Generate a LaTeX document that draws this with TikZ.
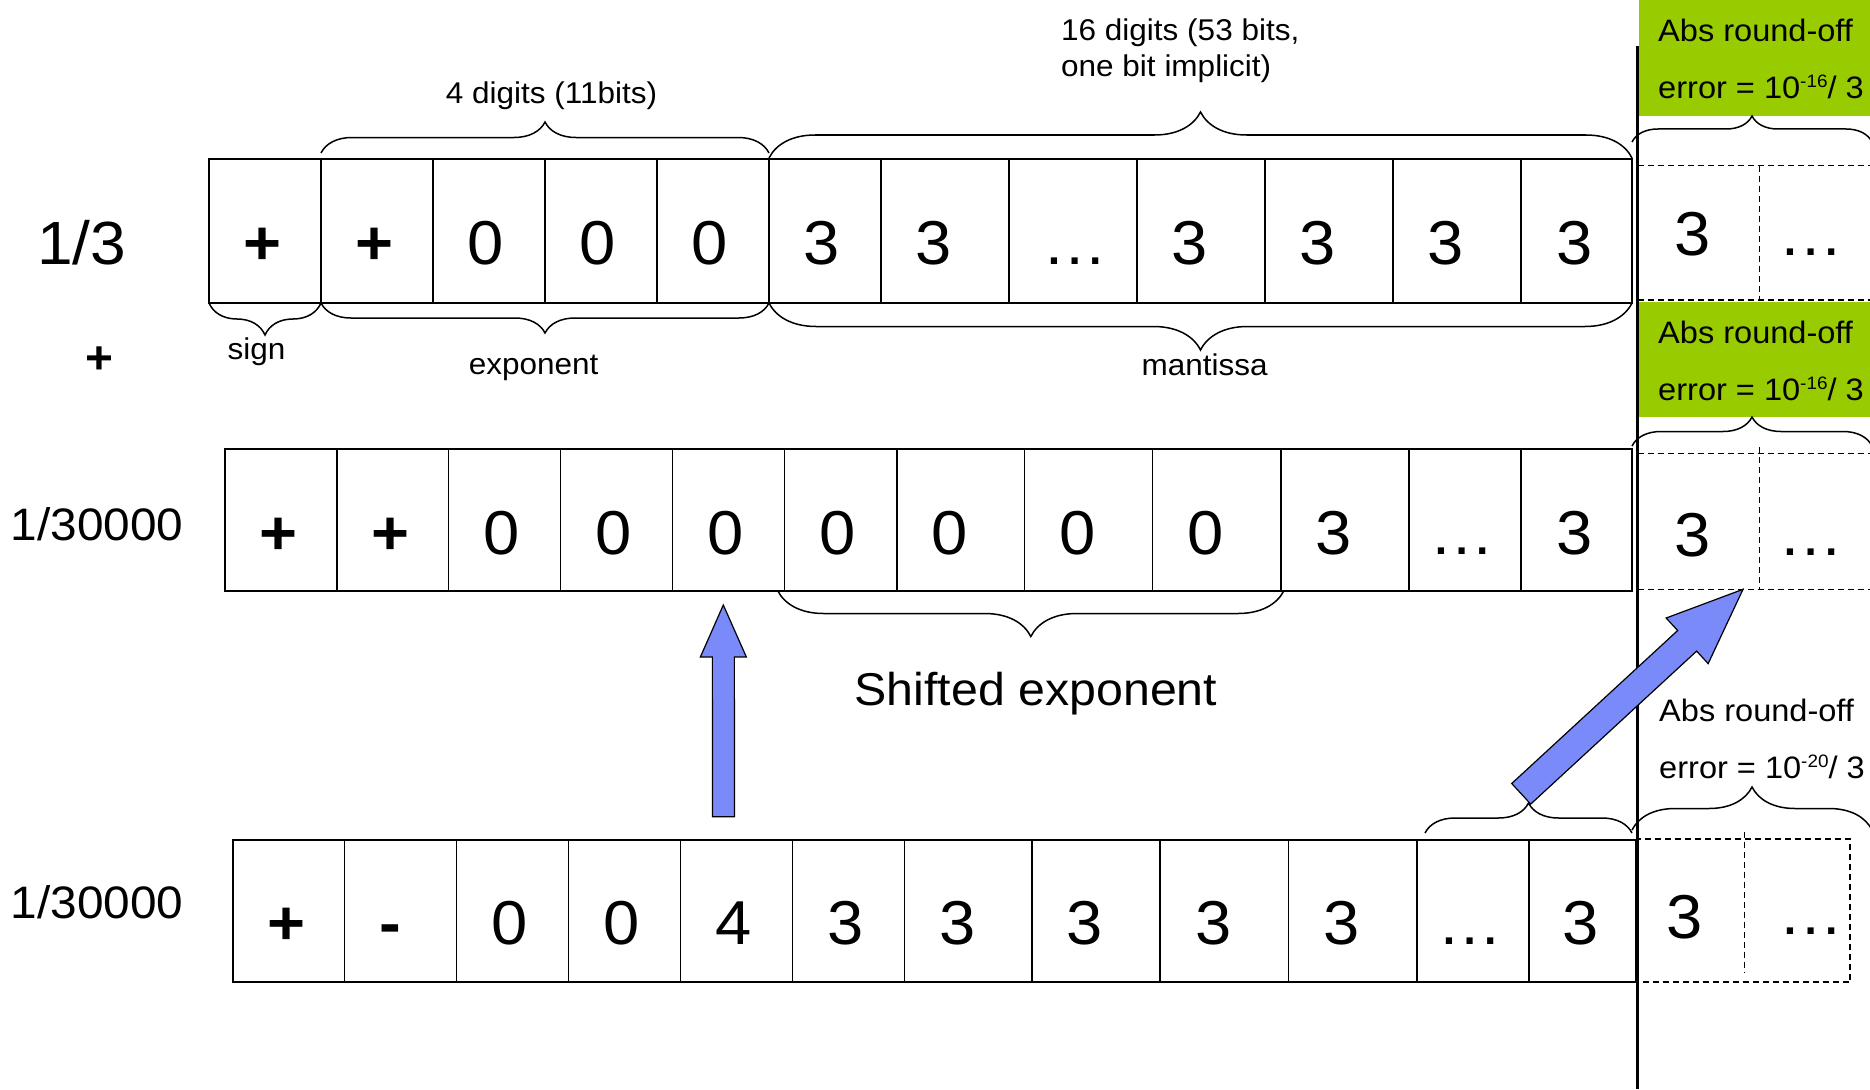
\documentclass[tikz,border=0pt]{standalone}
\usepackage{fontspec}
\setmainfont{Liberation Sans}[FakeStretch=1.05]
\usetikzlibrary{decorations.pathreplacing,calc}
\definecolor{limegreen}{RGB}{153,204,0}
\definecolor{arrowblue}{RGB}{122,138,248}
\tikzset{
  cell/.style={line width=1.3pt},
  outerbox/.style={line width=2pt},
  dashcell/.style={line width=1.3pt, dash pattern=on 6pt off 4pt},
  digit/.style={anchor=base, inner sep=0pt, font=\fontsize{62}{62}\selectfont},
  rowlabel/.style={anchor=base, inner sep=0pt},
  smalllabel/.style={anchor=base, inner sep=0pt, font=\fontsize{30}{30}\selectfont},
  errtext/.style={anchor=base west, inner sep=0pt, font=\fontsize{31}{31}\selectfont},
  bracetop/.style={decorate, decoration={brace, amplitude=#1}, line width=1.5pt},
  bracebot/.style={decorate, decoration={brace, amplitude=#1, mirror}, line width=1.5pt},
  blockarrow/.style={fill=arrowblue, draw=black, line width=1.2pt, line join=miter},
  divider/.style={line width=3.5pt},
}
\newcommand{\supx}[1]{\raisebox{11pt}{\fontsize{18}{18}\selectfont #1}}
\begin{document}
\begin{tikzpicture}[x=1pt,y=-1pt]
\useasboundingbox (0,0) rectangle (1870,1089);
\clip (0,0) rectangle (1870,1089);

% ---------- row 1 : 1/3 ----------
\foreach \a/\b/\t/\d [count=\i] in {209/321/\textbf{+}/-2, 321/433/\textbf{+}/-2, 433/545/0/-3, 545/657/0/-3, 657/769/0/-3, 769/881/3/-3, 881/1009/3/-11, 1009/1137/…/2, 1137/1265/3/-11, 1265/1393/3/-11, 1393/1521/3/-11, 1521/1632/3/-2}{
  \draw[cell] (\a,159) rectangle (\b,303);
  \node[digit] (r1c\i) at ({(\a+\b)/2+\d},264) {\t};
}
\draw[outerbox] (209,159) rectangle (1632,303);

% ---------- row 2 : 1/30000 ----------
\foreach \a/\b/\t/\d [count=\i] in {225/337/\textbf{+}/-2, 337/448.5/\textbf{+}/-2, 448.5/560.5/0/-3, 560.5/672.5/0/-3, 672.5/784.5/0/-3, 784.5/897/0/-3, 897/1024.5/0/-11, 1024.5/1152.5/0/-11, 1152.5/1281/0/-11, 1281/1409/3/-11, 1409/1521/…/-3, 1521/1632/3/-2}{
  \draw[cell] (\a,448.5) rectangle (\b,590.5);
  \node[digit] (r2c\i) at ({(\a+\b)/2+\d},554) {\t};
}
\draw[outerbox] (225,448.5) rectangle (1632,590.5);

% ---------- row 3 : 1/30000 ----------
\foreach \a/\b/\t/\d [count=\i] in {232.5/344.7/\textbf{+}/-2, 344.7/456.8/\textbf{-}/-10, 456.8/568.5/0/-3, 568.5/680.5/0/-3, 680.5/792.5/4/-3, 792.5/904.5/3/-3, 904.5/1032/3/-11, 1032/1160/3/-11, 1160/1288.5/3/-11, 1288.5/1417/3/-11, 1417/1529/…/-3, 1529/1636/3/-2}{
  \draw[cell] (\a,839.5) rectangle (\b,982);
  \node[digit] (r3c\i) at ({(\a+\b)/2+\d},944) {\t};
}
\draw[outerbox] (232.5,839.5) rectangle (1636,982);

% ---------- dashed (lost) digits ----------
\draw[dashcell] (1637.5,165.7) -- (1875,165.7) (1637.5,300) -- (1875,300) (1759.5,165.7) -- (1759.5,300);
\node[digit] (d1a) at (1693,255) {3};
\node[digit] (d1b) at (1811,255) {…};
\draw[dashcell] (1637.5,453.3) -- (1875,453.3) (1637.5,589.3) -- (1875,589.3) (1759.7,447) -- (1759.7,589.3);
\node[digit] (d2a) at (1693,556) {3};
\node[digit] (d2b) at (1811,555) {…};
\draw[dashcell] (1635.5,839) rectangle (1850,982) (1744.5,831.7) -- (1744.5,973);
\node[digit] (d3a) at (1685,938) {3};
\node[digit] (d3b) at (1811,934) {…};

% ---------- green boxes ----------
\fill[limegreen] (1639,0) rectangle (1870,115.7);
\fill[limegreen] (1639,301.7) rectangle (1870,417.4);

% ---------- braces ----------
\draw[bracetop=31] (321,153) -- (769,153);
\draw[bracetop=46] (769,158) -- (1632,158);
\draw[bracetop=26] (1632,142) -- (1872,142);
\draw[bracebot=32] (209,303) -- (321,303);
\draw[bracebot=30] (321,303) -- (769,303);
\draw[bracebot=47] (769,303) -- (1632,303);
\draw[bracetop=29] (1632,446) -- (1872,446);
\draw[bracebot=46] (777.6,590.5) -- (1284,590.5);
\draw[bracetop=30] (1425,833) -- (1632,833);
\draw[bracetop=43] (1632,830) -- (1872,830);

% ---------- divider ----------
\draw[divider] (1637.5,46) -- (1637.5,1089);

% ---------- labels ----------
\node[rowlabel, font=\fontsize{61}{61}\selectfont] (lab13) at (81.7,264) {1/3};
\node[rowlabel, font=\fontsize{45.5}{45.5}\selectfont\bfseries] (plus) at (99,373) {+};
\node[rowlabel, font=\fontsize{45.5}{45.5}\selectfont] (labA) at (97,540) {1/30000};
\node[rowlabel, font=\fontsize{45.5}{45.5}\selectfont] (labB) at (97,918) {1/30000};

\node[smalllabel] (labsign) at (256.5,359) {sign};
\node[smalllabel] (labexp) at (533.7,374) {exponent};
\node[smalllabel] (labman) at (1204.6,375) {mantissa};
\node[smalllabel] (lab4d) at (551.6,103) {4 digits (11bits)};
\node[smalllabel, anchor=base west] (lab16a) at (1061,41) {16 digits (53 bits,};
\node[smalllabel, anchor=base west] (lab16b) at (1061,77) {one bit implicit)};
\node[rowlabel, font=\fontsize{46}{46}\selectfont] (labshift) at (1036,705) {Shifted exponent};

\node[errtext] (g1a) at (1658,41.7) {Abs round-off};
\node[errtext] (g1b) at (1658,99) {error = 10\supx{-16}/ 3};
\node[errtext] (g2a) at (1658,343.4) {Abs round-off};
\node[errtext] (g2b) at (1658,400.7) {error = 10\supx{-16}/ 3};
\node[errtext] (g3a) at (1659,721.7) {Abs round-off};
\node[errtext] (g3b) at (1659,778.3) {error = 10\supx{-20}/ 3};

% ---------- blue block arrows ----------
\coordinate (upTail) at (723.5,816.7);
\coordinate (upTip) at (723.3,605);
\coordinate (upNeck) at ($(upTip)!52pt!(upTail)$);
\draw[blockarrow] ($(upTail)!11pt!90:(upTip)$) -- ($(upNeck)!11pt!90:(upTip)$) -- ($(upNeck)!23pt!90:(upTip)$) -- (upTip) -- ($(upNeck)!23pt!-90:(upTip)$) -- ($(upNeck)!11pt!-90:(upTip)$) -- ($(upTail)!11pt!-90:(upTip)$) -- cycle;

\coordinate (dgTail) at (1521.2,793.8);
\coordinate (dgTip) at (1743,589.3);
\coordinate (dgNeck) at ($(dgTip)!76pt!(dgTail)$);
\draw[blockarrow] ($(dgTail)!14pt!90:(dgTip)$) -- ($(dgNeck)!14pt!90:(dgTip)$) -- ($(dgNeck)!31pt!90:(dgTip)$) -- (dgTip) -- ($(dgNeck)!31pt!-90:(dgTip)$) -- ($(dgNeck)!14pt!-90:(dgTip)$) -- ($(dgTail)!14pt!-90:(dgTip)$) -- cycle;
\end{tikzpicture}
\end{document}
